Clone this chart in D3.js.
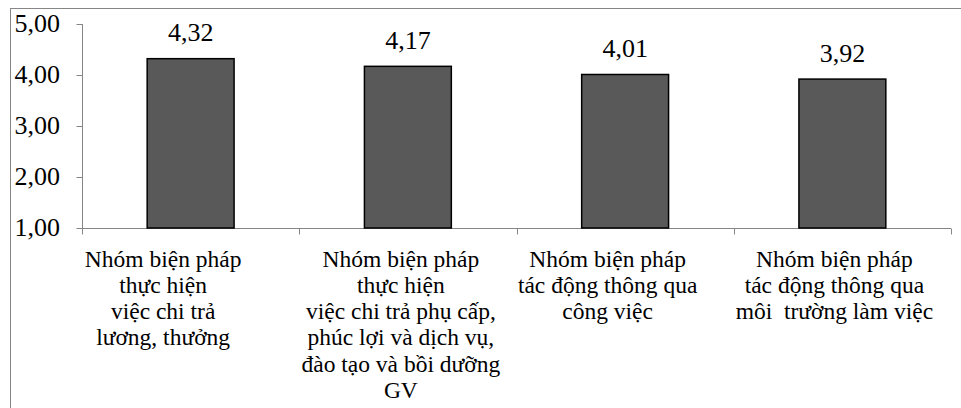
<!DOCTYPE html>
<html><head><meta charset="utf-8">
<script src="https://cdn.jsdelivr.net/npm/d3@7"></script>
<style>html,body{margin:0;padding:0;background:#fff;overflow:hidden}</style>
</head><body>
<svg id="c" width="961" height="408"></svg>
<script>
const categories = [
  ["Nhóm biện pháp","thực hiện","việc chi trả","lương, thưởng"],
  ["Nhóm biện pháp","thực hiện","việc chi trả phụ cấp,","phúc lợi và dịch vụ,","đào tạo và bồi dưỡng","GV"],
  ["Nhóm biện pháp","tác động thông qua","công việc"],
  ["Nhóm biện pháp","tác động thông qua","môi  trường làm việc"]
];
const values = [4.32, 4.17, 4.01, 3.92];
const valueLabels = ["4,32","4,17","4,01","3,92"];
const yTicks = [1, 2, 3, 4, 5];
const yTickLabels = ["1,00","2,00","3,00","4,00","5,00"];

// layout
const labelShift = [-27.5, -7, -17.5, -8];
const FONT = "Liberation Serif";
const svg = d3.select("#c");
svg.append("rect").attr("x",10.5).attr("y",8.5).attr("width",1000).attr("height",500)
  .attr("fill","#fff").attr("stroke","#868686").attr("stroke-width",1);

const idx = d3.range(values.length);
const x = d3.scaleBand().domain(idx).range([82, 951]).paddingInner(0.6).paddingOuter(0.3);
const y = d3.scaleLinear().domain([1, 5]).range([228, 24]);

// y axis
const yAxis = svg.append("g").attr("transform","translate(82.5,0)")
  .call(d3.axisLeft(y).tickValues(yTicks).tickSize(6).tickPadding(16.5)
    .tickFormat((d,i)=>yTickLabels[i]));
yAxis.selectAll("path,line").attr("stroke","#868686").attr("stroke-width",1);
yAxis.select(".domain").attr("d","M0,"+y(5)+"V"+y(1));
yAxis.selectAll("text").style("font-family",FONT).style("font-size","26px").attr("fill","#000")
  .attr("dy",null).attr("y",7.8);

// x axis
const xAxis = svg.append("g").attr("transform","translate(0,228.5)");
xAxis.append("line").attr("x1",82).attr("x2",951).attr("stroke","#868686");
const tickPos = d3.range(values.length+1).map(i => i===values.length ? x(i-1)+x.bandwidth()+x.step()*x.paddingInner()/2 : x(i) - x.step()*x.paddingInner()/2);
xAxis.selectAll("line.t").data(tickPos).join("line").attr("class","t")
  .attr("x1",d=>Math.round(d)+0.5).attr("x2",d=>Math.round(d)+0.5).attr("y1",0).attr("y2",6).attr("stroke","#868686");

// bars
svg.selectAll("rect.bar").data(values).join("rect").attr("class","bar")
  .attr("x",(d,i)=>x(i)).attr("width",x.bandwidth())
  .attr("y",d=>y(d)).attr("height",d=>y(1)-y(d))
  .attr("fill","#595959").attr("stroke","#000").attr("stroke-width",1.5);

// value labels
svg.selectAll("text.val").data(values).join("text").attr("class","val")
  .attr("x",(d,i)=>x(i)+x.bandwidth()/2).attr("y",d=>y(d)-17.3)
  .attr("text-anchor","middle").style("font-family",FONT).style("font-size","26px")
  .text((d,i)=>valueLabels[i]);

// category labels
categories.forEach((lines,i)=>{
  const cx = x(i)+x.bandwidth()/2 + labelShift[i];
  const t = svg.append("text").style("font-family",FONT).style("font-size","23.5px")
    .attr("text-anchor","middle").style("white-space","pre");
  lines.forEach((ln,j)=>{
    t.append("tspan").attr("x",cx).attr("y",266.7 + j*26.2).text(ln);
  });
});
</script>
</body></html>
